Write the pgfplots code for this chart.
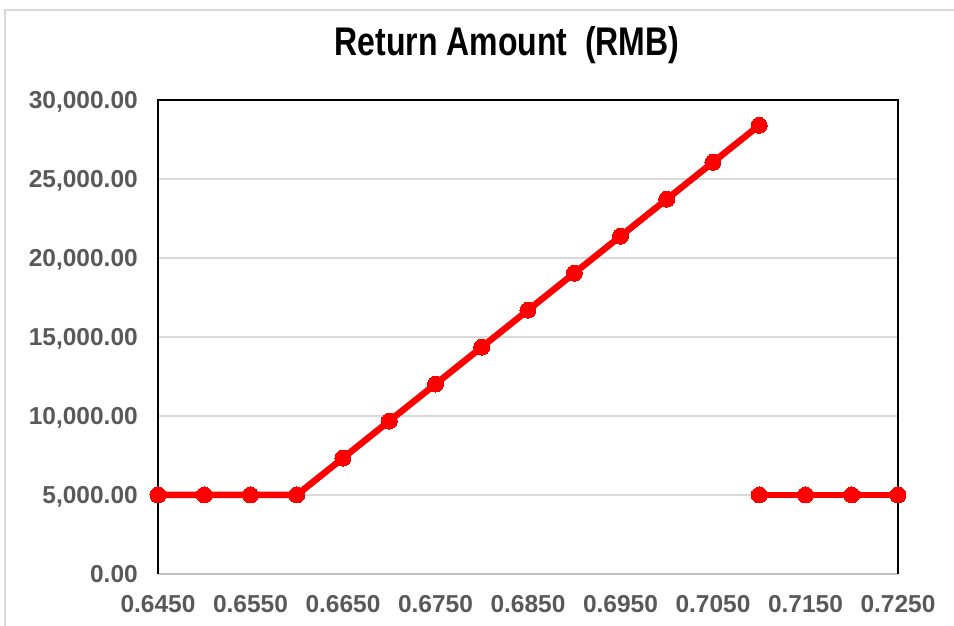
\documentclass[border=0pt]{standalone}
\usepackage{pgfplots}
\pgfplotsset{compat=1.18}
\usepackage{graphicx}
\usepackage{fontspec}
\setmainfont{Liberation Sans}
\definecolor{tickgray}{HTML}{595959}
\definecolor{gridgray}{HTML}{D9D9D9}
\definecolor{axgray}{HTML}{BFBFBF}
\definecolor{redline}{HTML}{FF0000}
\begin{document}
\begin{tikzpicture}[x=1pt,y=1pt]
\path[use as bounding box] (0,0) rectangle (954,626);
\draw[gridgray, line width=2pt] (5,0) -- (5,616) -- (954,616);
\node[inner sep=0pt] at (507,581) {\scalebox{0.8}[1]{\fontsize{40}{48}\selectfont\bfseries Return Amount\ \ (RMB)}};
\begin{axis}[
  at={(158pt,52pt)}, anchor=south west,
  width=740pt, height=474pt, scale only axis,
  xmin=0.645, xmax=0.725, ymin=0, ymax=30000,
  xtick={0.645,0.655,0.665,0.675,0.685,0.695,0.705,0.715,0.725},
  ytick={0,5000,10000,15000,20000,25000,30000},
  scaled x ticks=false, scaled y ticks=false,
  axis line style={draw=none},
  major tick length=0pt,
  ymajorgrids, grid style={gridgray, line width=1.5pt},
  clip=false,
  /pgf/number format/assume math mode=true,
  xticklabel style={font=\fontsize{24.5}{28}\selectfont\bfseries, text=tickgray, inner sep=0pt, anchor=base, yshift=-39pt,
    /pgf/number format/.cd, fixed, fixed zerofill, precision=4},
  yticklabel style={font=\fontsize{24.5}{28}\selectfont\bfseries, text=tickgray, inner sep=0pt, anchor=base east, xshift=-20pt, yshift=-9pt,
    /pgf/number format/.cd, fixed, fixed zerofill, precision=2, 1000 sep={,}},
]
\draw[axgray, line width=2pt] (rel axis cs:0,0) -- (rel axis cs:1,0);
\draw[black, line width=2pt] (rel axis cs:0,0) -- (rel axis cs:0,1) -- (rel axis cs:1,1) -- (rel axis cs:1,0);
\addplot[redline, line width=6.5pt, mark=*, mark size=8pt, mark options={fill=redline, draw=redline, line width=0pt}] coordinates {
(0.645,5000)(0.650,5000)(0.655,5000)(0.660,5000)(0.665,7340)(0.670,9680)(0.675,12020)(0.680,14360)(0.685,16700)(0.690,19040)(0.695,21380)(0.700,23720)(0.705,26060)(0.710,28400)
};
\addplot[redline, line width=6.5pt, mark=*, mark size=8pt, mark options={fill=redline, draw=redline, line width=0pt}] coordinates {
(0.710,5000)(0.715,5000)(0.720,5000)(0.725,5000)
};
\end{axis}
\end{tikzpicture}
\end{document}
